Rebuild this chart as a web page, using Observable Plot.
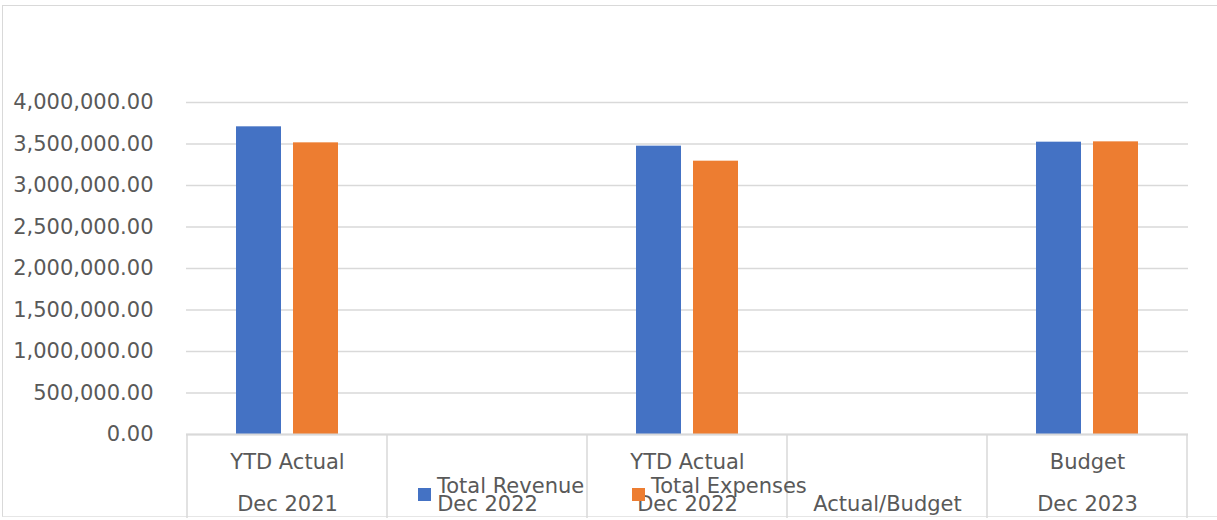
<!DOCTYPE html>
<html>
<head>
<meta charset="utf-8">
<script src="https://cdn.jsdelivr.net/npm/d3@7"></script>
<script src="https://cdn.jsdelivr.net/npm/@observablehq/plot@0.6"></script>
<style>
  html, body { margin: 0; padding: 0; background: #fff; }
  #wrap { position: relative; width: 1217px; height: 520px; overflow: hidden; }
  #border { position: absolute; left: 2px; top: 5px; right: -10px; bottom: 3px;
            border-top: 1.5px solid #d9d9d9; border-left: 1.5px solid #d9d9d9; border-bottom: 1px solid #e6e6e6; }
  #chart { position: absolute; left: 0; top: 0; }
</style>
</head>
<body>
<div id="wrap"><div id="border"></div><div id="chart"></div></div>
<script>
// ---- data ----
const categoryKeys = ["c1", "c2", "c3", "c4", "c5"];
const categoryTop = ["YTD Actual", "", "YTD Actual", "", "Budget"];
const categoryBottom = ["Dec 2021", "Dec 2022", "Dec 2022", "Actual/Budget", "Dec 2023"];
const seriesNames = ["Total Revenue", "Total Expenses"];
const seriesColors = ["#4472c4", "#ed7d31"];
const revenueValues = [3707000, null, 3474000, null, 3522000];
const expenseValues = [3514000, null, 3293000, null, 3526000];
const yTicks = [0, 500000, 1000000, 1500000, 2000000, 2500000, 3000000, 3500000, 4000000];

// ---- tables built from the arrays ----
const revenueRows = categoryKeys.map((k, i) => ({key: k, value: revenueValues[i]})).filter(d => d.value != null);
const expenseRows = categoryKeys.map((k, i) => ({key: k, value: expenseValues[i]})).filter(d => d.value != null);
const catRows = categoryKeys.map((k, i) => ({key: k, top: categoryTop[i], bottom: categoryBottom[i]}));

const font = "DejaVu Sans";
const textColor = "#595959";
const gridColor = "#d9d9d9";

const chart = Plot.plot({
  width: 1217,
  height: 520,
  marginLeft: 186,
  marginRight: 29,
  marginTop: 102,
  marginBottom: 86,
  style: {fontFamily: font, fontSize: "21px", color: textColor, background: "transparent", overflow: "visible"},
  x: {domain: categoryKeys, padding: 0, axis: null},
  y: {domain: [0, 4000000], axis: null},
  marks: [
    Plot.gridY(yTicks, {stroke: gridColor, strokeOpacity: 1, strokeWidth: 1.5}),
    Plot.axisY(yTicks, {label: null, tickSize: 0, tickPadding: 33, tickFormat: d3.format(",.2f"), fill: textColor, fontSize: 21, fontFamily: font}),
    Plot.barY(revenueRows, {x: "key", y: "value", fill: seriesColors[0], insetLeft: 49, insetRight: 106}),
    Plot.barY(expenseRows, {x: "key", y: "value", fill: seriesColors[1], insetLeft: 106, insetRight: 49}),
    Plot.ruleY([0], {stroke: gridColor, strokeWidth: 2}),
    Plot.text(catRows, {x: "key", text: "top", frameAnchor: "bottom", lineAnchor: "middle", dy: 28, fill: textColor, fontSize: 21, fontFamily: font}),
    Plot.text(catRows, {x: "key", text: "bottom", frameAnchor: "bottom", lineAnchor: "middle", dy: 70, fill: textColor, fontSize: 21, fontFamily: font})
  ]
});

document.getElementById("chart").appendChild(chart);

// category separators below the axis, placed with the plot's x scale
const xs = chart.scale("x");
const ys = chart.scale("y");
const y0 = ys.apply(0);
const bw = xs.bandwidth;
const edges = categoryKeys.map(k => xs.apply(k)).concat([xs.apply(categoryKeys[categoryKeys.length - 1]) + bw]);
const svg = d3.select(chart);
svg.append("g").selectAll("line").data(edges).join("line")
  .attr("x1", d => d).attr("x2", d => d)
  .attr("y1", y0).attr("y2", 518)
  .attr("stroke", gridColor).attr("stroke-width", 1.5);

// legend (overlapping the category labels, as in the original)
const legendX = [418, 632];
const lg = svg.append("g").attr("font-family", font).attr("font-size", 21)
  .attr("fill", textColor).attr("text-anchor", "start");
seriesNames.forEach((name, i) => {
  lg.append("rect").attr("x", legendX[i]).attr("y", 488).attr("width", 13).attr("height", 13).attr("fill", seriesColors[i]);
  lg.append("text").attr("x", legendX[i] + 19).attr("y", 493).attr("text-anchor", "start").text(name);
});
</script>
</body>
</html>
